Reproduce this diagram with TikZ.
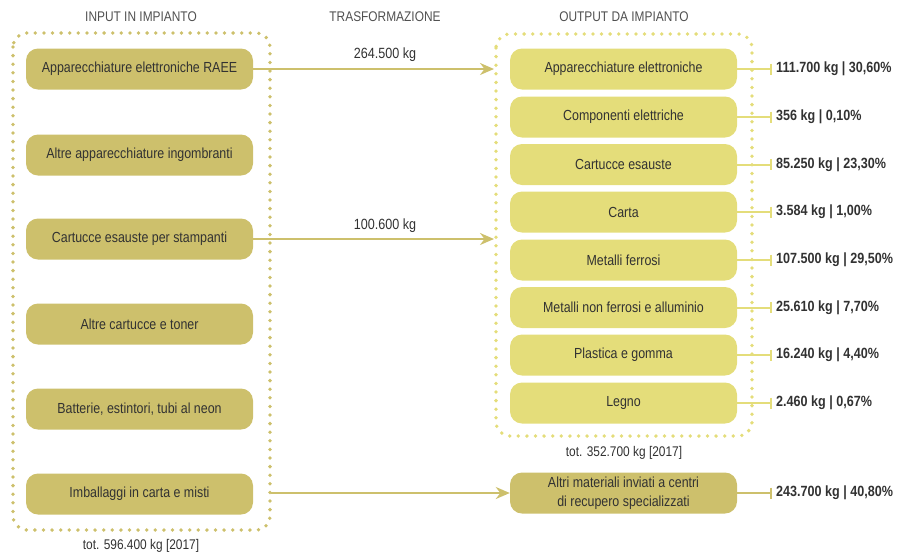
\documentclass[tikz,border=0pt]{standalone}
\usepackage{fontspec}
\setmainfont{Liberation Sans}[FakeStretch=0.85]
\usetikzlibrary{arrows.meta}
\definecolor{khaki}{RGB}{205,192,108}
\definecolor{yel}{RGB}{228,221,122}
\definecolor{txt}{RGB}{50,50,50}
\definecolor{headc}{RGB}{80,80,80}
\begin{document}
\begin{tikzpicture}[x=1pt,y=-1pt,
  inbox/.style={fill=khaki, rounded corners=12pt, minimum width=227pt, minimum height=41pt,
    text=txt, font=\fontsize{14.6}{16.5}\selectfont, align=center, inner sep=0pt},
  outbox/.style={inbox, fill=yel},
  frameA/.style={draw=khaki, line width=3.8pt, dash pattern=on 0pt off 8.6pt, line cap=round, rounded corners=14pt},
  frameB/.style={frameA, draw=yel},
  val/.style={anchor=west, inner sep=0pt, xshift=3pt, font=\bfseries\fontsize{14.8}{16}\selectfont, text=txt},
  head/.style={font=\fontsize{14}{16}\selectfont, text=headc},
  flow/.style={draw=khaki, line width=2pt, -{Stealth[length=14pt,width=12pt,inset=4.5pt]}},
  tickl/.style={draw=yel, line width=2pt, -{Bar[width=11pt,line width=2pt]}},
  qty/.style={font=\fontsize{14.8}{16}\selectfont, text=txt}
]
\useasboundingbox (0,0) rectangle (908,555);

% frames
\draw[frameA] (13,33) rectangle (270,530);
\draw[frameB] (496,34) rectangle (752,436);

% headers
\node[head] (h1) at (141,17) {INPUT IN IMPIANTO};
\node[head] (h2) at (385,17) {TRASFORMAZIONE};
\node[head] (h3) at (624,17) {OUTPUT DA IMPIANTO};

% input boxes
\node[inbox] (i1) at (139.5,69) {Apparecchiature elettroniche RAEE};
\node[inbox] (i2) at (139.5,155) {Altre apparecchiature ingombranti};
\node[inbox] (i3) at (139.5,239) {Cartucce esauste per stampanti};
\node[inbox] (i4) at (139.5,324) {Altre cartucce e toner};
\node[inbox] (i5) at (139.5,409) {Batterie, estintori, tubi al neon};
\node[inbox] (i6) at (139.5,494) {Imballaggi in carta e misti};

% output boxes
\node[outbox] (o1) at (623.5,69) {Apparecchiature elettroniche};
\node[outbox] (o2) at (623.5,117) {Componenti elettriche};
\node[outbox] (o3) at (623.5,164.5) {Cartucce esauste};
\node[outbox] (o4) at (623.5,212) {Carta};
\node[outbox] (o5) at (623.5,260) {Metalli ferrosi};
\node[outbox] (o6) at (623.5,307.5) {Metalli non ferrosi e alluminio};
\node[outbox] (o7) at (623.5,355) {Plastica e gomma};
\node[outbox] (o8) at (623.5,403) {Legno};
\node[inbox] (o9) at (623.5,493) {Altri materiali inviati a centri\\[2.5pt]di recupero specializzati};

% totals
\node[head, text=txt] (t1) at (141,546) {tot. 596.400 kg [2017]};
\node[head, text=txt] (t2) at (624,453) {tot. 352.700 kg [2017]};

% flows
\coordinate (e1) at (494,69);
\coordinate (e2) at (494,239);
\coordinate (s3) at (271,493);
\draw[flow] (i1.east) -- (e1);
\draw[flow] (i3.east) -- (e2);
\draw[flow] (s3) -- (o9.west);
\node[qty] (q1) at (385,55) {264.500 kg};
\node[qty] (q2) at (385,226) {100.600 kg};

% values
\draw[tickl] (o1.east) -- ++(35,0) node[val] (v1) {111.700 kg | 30,60\%};
\draw[tickl] (o2.east) -- ++(35,0) node[val] (v2) {356 kg | 0,10\%};
\draw[tickl] (o3.east) -- ++(35,0) node[val] (v3) {85.250 kg | 23,30\%};
\draw[tickl] (o4.east) -- ++(35,0) node[val] (v4) {3.584 kg | 1,00\%};
\draw[tickl] (o5.east) -- ++(35,0) node[val] (v5) {107.500 kg | 29,50\%};
\draw[tickl] (o6.east) -- ++(35,0) node[val] (v6) {25.610 kg | 7,70\%};
\draw[tickl] (o7.east) -- ++(35,0) node[val] (v7) {16.240 kg | 4,40\%};
\draw[tickl] (o8.east) -- ++(35,0) node[val] (v8) {2.460 kg | 0,67\%};
\draw[tickl, draw=khaki] (o9.east) -- ++(35,0) node[val] (v9) {243.700 kg | 40,80\%};
\end{tikzpicture}
\end{document}
